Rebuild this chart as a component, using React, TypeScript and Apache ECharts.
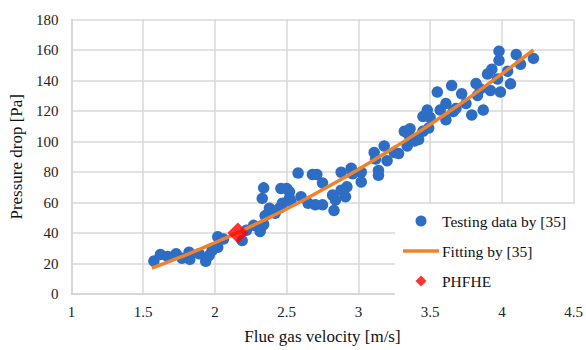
import React, { useEffect, useRef } from "react";
import * as echarts from "echarts";

const testVelocity = [
  1.575, 1.62, 1.67, 1.73, 1.77, 1.82, 1.825, 1.89, 1.936, 1.96, 1.98, 2.02, 2.02, 2.06,
  2.19, 2.22, 2.27, 2.315, 2.34, 2.35, 2.38, 2.33, 2.34, 2.32, 2.42, 2.45, 2.47, 2.46,
  2.5, 2.52, 2.52, 2.53, 2.58, 2.6, 2.65, 2.68, 2.71, 2.7, 2.75, 2.75, 2.82, 2.83, 2.84,
  2.88, 2.88, 2.91, 2.92, 2.95, 2.96, 3.02, 3.02, 3.11, 3.12, 3.14, 3.14, 3.18, 3.2,
  3.25, 3.28, 3.32, 3.34, 3.35, 3.36, 3.39, 3.42, 3.45, 3.45, 3.48, 3.49, 3.5, 3.55,
  3.57, 3.61, 3.61, 3.65, 3.66, 3.68, 3.72, 3.75, 3.79, 3.82, 3.83, 3.85, 3.87, 3.9,
  3.92, 3.93, 3.97, 3.98, 3.98, 3.99, 4.04, 4.06, 4.1, 4.13, 4.22,
];
const testPressure = [
  21.6, 25.9, 24.6, 26.4, 23.5, 27.4, 22.7, 26.4, 21.4, 25.3, 28.5, 30.6, 37.5, 36,
  35, 41.8, 45, 41, 45.6, 51.4, 56.3, 62.7, 69.6, 43.5, 53, 56.3, 59.5, 69.2,
  69.2, 67, 62.7, 60.6, 79.3, 63.8, 59.5, 78.4, 78.4, 58.5, 58.5, 72.8, 64.9, 54.8, 61.7,
  68.1, 79.9, 63.8, 70.3, 82.5, 78.8, 79.9, 73.5, 92.8, 88.5, 81, 77.8, 97.1, 87.4,
  92.8, 92.1, 106.7, 97.1, 104.5, 108.4, 100.3, 101.3, 106.7, 116.4, 120.6, 108.8, 115.7, 132.4,
  120.6, 124.9, 114.2, 136.7, 119.6, 121.7, 131.3, 124.9, 117.4, 138, 130.2, 134.5, 120.6, 144.2,
  133.5, 147.4, 141, 159.2, 153.2, 132.4, 146.1, 137.8, 157, 150.6, 154.5,
];

const fitVelocity = [1.56, 1.8, 2.0, 2.2, 2.4, 2.6, 2.8, 3.0, 3.2, 3.4, 3.6, 3.8, 4.0, 4.22];
const fitPressure = [17, 25.7, 33.6, 42.1, 51.1, 60.7, 71.0, 81.7, 93.1, 105.0, 117.5, 130.6, 144.3, 160];

const phfheVelocity = [2.16];
const phfhePressure = [40];

const xTicks = { min: 1, max: 4.5, interval: 0.5 };
const yTicks = { min: 0, max: 180, interval: 20 };

const seriesNames = ["Testing data by [35]", "Fitting by [35]", "PHFHE"];
const xTitle = "Flue gas velocity [m/s]";
const yTitle = "Pressure drop [Pa]";

const FONT = "Times New Roman, Liberation Serif, serif";

export default function App() {
  const ref = useRef<HTMLDivElement>(null);
  useEffect(() => {
    if (!ref.current) return;
    const chart = echarts.init(ref.current, undefined, { renderer: "svg" });
    const zip = (xs: number[], ys: number[]) => xs.map((x, i) => [x, ys[i]]);
    chart.setOption({
      animation: false,
      backgroundColor: "#ffffff",
      textStyle: { fontFamily: FONT },
      grid: { left: 71, right: 8, top: 19.5, bottom: 50.7, containLabel: false },
      xAxis: {
        type: "value",
        min: xTicks.min,
        max: xTicks.max,
        interval: xTicks.interval,
        name: xTitle,
        nameLocation: "middle",
        nameGap: 34,
        nameTextStyle: { fontFamily: FONT, fontSize: 17, color: "#111" },
        axisLine: { show: true, lineStyle: { color: "#d4d4d4", width: 1.5 } },
        axisTick: { show: false },
        axisLabel: { fontFamily: FONT, fontSize: 15, color: "#222", margin: 10 },
        splitLine: { show: true, lineStyle: { color: "#d9d9d9", width: 1.5 } },
      },
      yAxis: {
        type: "value",
        min: yTicks.min,
        max: yTicks.max,
        interval: yTicks.interval,
        name: yTitle,
        nameLocation: "middle",
        nameGap: 43,
        nameTextStyle: { fontFamily: FONT, fontSize: 17, color: "#111" },
        axisLine: { show: true, lineStyle: { color: "#d4d4d4", width: 1.5 } },
        axisTick: { show: false },
        axisLabel: { fontFamily: FONT, fontSize: 15, color: "#222", margin: 13 },
        splitLine: { show: true, lineStyle: { color: "#d9d9d9", width: 1.5 } },
      },
      graphic: [
        {
          type: "rect",
          left: 395,
          top: 204,
          shape: { width: 182, height: 94 },
          style: { fill: "#ffffff" },
          z: 3,
          silent: true,
        },
      ],
      legend: {
        orient: "vertical",
        left: 395,
        top: 204,
        padding: [8, 10, 8, 8],
        itemGap: 12,
        itemWidth: 36,
        itemHeight: 11,
        symbolKeepAspect: true,
        itemStyle: { borderWidth: 0 },
        textStyle: { fontFamily: FONT, fontSize: 15.5, color: "#111", lineHeight: 18, padding: [0, 0, 0, -2] },
        z: 5,
        data: [
          { name: seriesNames[0], icon: "circle" },
          { name: seriesNames[1], icon: "path://M0,0H36V3.5H0Z" },
          { name: seriesNames[2], icon: "path://M5,0L10,5L5,10L0,5Z" },
        ],
      },
      series: [
        {
          name: seriesNames[0],
          type: "scatter",
          data: zip(testVelocity, testPressure),
          symbol: "circle",
          symbolSize: 11.5,
          itemStyle: { color: "#2E6DC4", opacity: 1 },
          z: 2,
        },
        {
          name: seriesNames[1],
          type: "line",
          data: zip(fitVelocity, fitPressure),
          symbol: "none",
          smooth: true,
          lineStyle: { color: "#F0822E", width: 3.5 },
          itemStyle: { color: "#F0822E" },
          z: 3,
        },
        {
          name: seriesNames[2],
          type: "scatter",
          data: zip(phfheVelocity, phfhePressure),
          symbol: "diamond",
          symbolSize: 21,
          itemStyle: { color: "#FF0000" },
          z: 4,
        },
      ],
    });
    return () => chart.dispose();
  }, []);
  return (
    <div
      ref={ref}
      style={{ position: "fixed", left: 0, top: 0, width: 586, height: 350, background: "#fff" }}
    />
  );
}
